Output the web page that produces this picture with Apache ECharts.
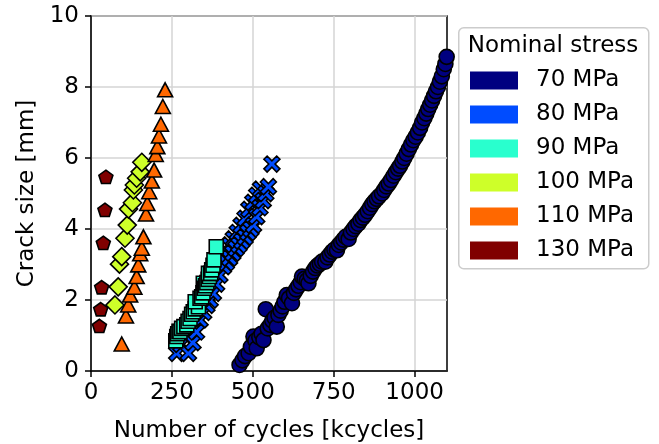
<!DOCTYPE html>
<html>
<head>
<meta charset="utf-8">
<script src="https://cdn.jsdelivr.net/npm/echarts@6/dist/echarts.min.js"></script>
<style>
html,body{margin:0;padding:0;background:#fff;}
#chart{width:659px;height:444px;}
</style>
</head>
<body>
<div id="chart"></div>
<script>
// ---- data ----
const seriesNames = ['70 MPa', '80 MPa', '90 MPa', '100 MPa', '110 MPa', '130 MPa'];
const seriesColors = ['#000080', '#004cff', '#29ffce', '#ceff29', '#ff6800', '#800000'];
const xTicks = [0, 250, 500, 750, 1000];
const yTicks = [0, 2, 4, 6, 8, 10];

const s70 = [[459,0.17],[468,0.3],[476,0.42],[487,0.5],[494,0.68],[502,0.97],[508,0.85],[512,0.64],[520,0.95],[527,1.05],[533,0.87],[540,1.74],[546,1.2],[554,1.30],[560,1.42],[567,1.5],[574,1.25],[579,1.58],[586,1.7],[592,1.82],[598,1.95],[605,2.14],[612,2.05],[621,1.91],[627,2.2],[634,2.3],[641,2.4],[648,2.5],[652,2.66],[660,2.6],[667,2.55],[672,2.47],[679,2.68],[686,2.8],[693,2.9],[700,2.97],[707,3.02],[714,3.08],[724,3.08],[731,3.2],[738,3.28],[745,3.36],[752,3.42],[760,3.4],[766,3.55],[773,3.62],[780,3.7],[787,3.78],[796,3.72],[803,3.9],[811,4.0],[818,4.08],[826,4.15],[833,4.25],[840,4.32],[847,4.4],[855,4.5],[862,4.6],[869,4.7],[876,4.78],[883,4.85],[890,4.92],[899,5.0],[906,5.1],[913,5.2],[920,5.28],[927,5.38],[935,5.5],[942,5.6],[949,5.7],[955,5.78],[962,5.9],[968,6.0],[975,6.12],[982,6.25],[989,6.38],[996,6.5],[1003,6.6],[1010,6.72],[1017,6.85],[1023,7.0],[1030,7.12],[1036,7.25],[1042,7.38],[1048,7.5],[1054,7.62],[1060,7.75],[1066,7.88],[1072,8.0],[1078,8.15],[1084,8.3],[1090,8.5],[1095,8.65],[1099,8.85]];

const s80 = [[265,0.5],[278,0.75],[290,1.0],[302,1.25],[314,1.5],[326,1.7],[340,1.95],[352,2.2],[365,2.45],[378,2.7],[390,2.95],[402,3.15],[415,3.35],[428,3.55],[440,3.72],[452,3.9],[464,4.1],[476,4.3],[488,4.55],[500,4.75],[512,4.95],[524,5.12],
  [301,0.5],[315,0.8],[326,1.1],[337,1.44],[348,1.65],[358,1.85],[368,2.0],[378,2.19],[388,2.45],[398,2.7],[409,2.94],[418,3.05],[428,3.18],[438,3.32],[448,3.45],[457,3.55],[466,3.66],[476,3.77],[485,3.9],[494,4.0],[502,4.11],[512,4.35],[522,4.6],[532,4.8],[540,5.0],[548,5.19],[559,5.83]];

const s90 = [[262,0.85],[265,0.97],[268,1.05],[272,1.12],[275,1.11],[280,1.2],[287,1.25],[296,1.30],[300,1.4],[306,1.48],[311,1.6],[316,1.67],[322,1.75],[332,1.81],[322,1.95],[337,2.05],[342,2.09],[346,2.2],[347,2.47],[350,2.33],[354,2.4],[358,2.49],[362,2.58],[366,2.66],[363,2.75],[370,2.75],[373,2.85],[377,2.98],[380,3.13],[387,3.5]];

const s100 = [[74,1.86],[84,2.37],[88,3.01],[95,3.22],[105,3.74],[112,4.11],[116,4.56],[128,4.74],[131,5.10],[134,5.24],[141,5.43],[152,5.61],[157,5.88]];

const s110 = [[95,0.76],[108,1.55],[115,1.86],[121,2.14],[134,2.36],[141,2.66],[146,2.99],[152,3.30],[157,3.46],[162,3.78],[170,4.42],[174,4.72],[180,5.05],[188,5.35],[195,5.66],[200,6.10],[205,6.32],[210,6.62],[216,6.95],[222,7.45],[229,7.92],[232,10.3]];

const s130 = [[26,1.27],[30,1.74],[33,2.36],[38,3.61],[43,4.54],[46,5.47]];

// ---- chart ----
const FONT = 'DejaVu Sans';
const FS = 23;
const xPath = 'path://M0,2 L2,0 L5,3 L8,0 L10,2 L7,5 L10,8 L8,10 L5,7 L2,10 L0,8 L3,5 Z';
const pentPath = 'path://M50,0 L97.55,34.55 L79.39,90.45 L20.61,90.45 L2.45,34.55 Z';

const seriesData = [s70, s80, s90, s100, s110, s130];
const symbols = ['circle', xPath, 'rect', 'diamond', 'triangle', pentPath];
const sizes = [15, 16, 14, 18, [15, 14], [14, 13.3]];

const series = seriesData.map((d, i) => ({
  type: 'scatter',
  name: seriesNames[i],
  data: d,
  symbol: symbols[i],
  symbolSize: sizes[i],
  clip: true,
  itemStyle: { color: seriesColors[i], borderColor: '#000', borderWidth: 1.6, opacity: 1 },
  emphasis: { disabled: true }
}));

const chart = echarts.init(document.getElementById('chart'), null, { renderer: 'canvas' });
chart.setOption({
  animation: false,
  textStyle: { fontFamily: FONT },
  grid: { left: 91, right: 212, top: 16, bottom: 73, show: true, borderColor: '#000', borderWidth: 1.5, backgroundColor: 'transparent', containLabel: false, outerBoundsMode: 'none' },
  xAxis: {
    type: 'value', min: 0, max: 1100, interval: 250,
    name: 'Number of cycles [kcycles]', nameLocation: 'middle', nameGap: 49,
    nameTextStyle: { fontSize: FS, color: '#000', fontFamily: FONT },
    axisLine: { show: true, onZero: false, lineStyle: { color: '#000', width: 1.5 } },
    axisTick: { show: true, inside: false, length: 6, lineStyle: { color: '#000', width: 1.5 }, customValues: xTicks },
    axisLabel: { fontSize: FS, color: '#000', margin: 11, fontFamily: FONT, customValues: xTicks, formatter: v => String(v) },
    splitLine: { show: true, lineStyle: { color: '#d4d4d4', width: 1.5 } }
  },
  yAxis: {
    type: 'value', min: 0, max: 10, interval: 2,
    name: 'Crack size [mm]', nameLocation: 'middle', nameGap: 52,
    nameTextStyle: { fontSize: FS, color: '#000', fontFamily: FONT },
    axisLine: { show: true, onZero: false, lineStyle: { color: '#000', width: 1.5 } },
    axisTick: { show: true, inside: false, length: 6, lineStyle: { color: '#000', width: 1.5 }, customValues: yTicks },
    axisLabel: { fontSize: FS, color: '#000', margin: 12, fontFamily: FONT, customValues: yTicks, formatter: v => String(v) },
    splitLine: { show: true, lineStyle: { color: '#d4d4d4', width: 1.5 } }
  },
  legend: {
    orient: 'vertical', left: 465, top: 64,
    itemWidth: 48, itemHeight: 18, itemGap: 11,
    icon: 'rect',
    itemStyle: { borderWidth: 0 },
    selectedMode: false,
    textStyle: { fontSize: FS, color: '#000', fontFamily: FONT, padding: [0, 0, 0, 13] },
    data: seriesNames
  },
  graphic: [
    { type: 'rect', left: 458, top: 27, z: 0, shape: { width: 190, height: 241, r: 5 },
      style: { fill: 'rgba(255,255,255,0.85)', stroke: '#cccccc', lineWidth: 1.5 } },
    { type: 'text', x: 553, y: 46, z: 1,
      style: { text: 'Nominal stress', font: FS + 'px "DejaVu Sans"', fill: '#000', textAlign: 'center', textVerticalAlign: 'middle' } }
  ],
  series: series
});
</script>
</body>
</html>
